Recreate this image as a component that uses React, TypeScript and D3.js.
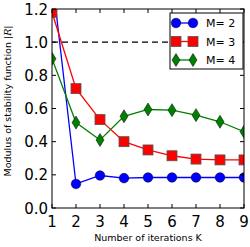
import React from "react";
import * as d3 from "d3";

const iterations = [1, 2, 3, 4, 5, 6, 7, 8, 9];
const m2 = [1.4, 0.145, 0.196, 0.18, 0.184, 0.184, 0.184, 0.184, 0.184];
const m3 = [1.18, 0.72, 0.533, 0.4, 0.35, 0.315, 0.295, 0.29, 0.29];
const m4 = [0.9, 0.515, 0.41, 0.553, 0.594, 0.59, 0.56, 0.52, 0.46];
const yTicks = [0, 0.2, 0.4, 0.6, 0.8, 1.0, 1.2];

const seriesList = [
  { name: "M= 2", values: m2, color: "#0000ff", marker: "circle" },
  { name: "M= 3", values: m3, color: "#ff0000", marker: "square" },
  { name: "M= 4", values: m4, color: "#008000", marker: "diamond" },
];

function Marker({ kind, x, y, color }) {
  if (kind === "circle")
    return <circle cx={x} cy={y} r={4.8} fill={color} stroke="#000" strokeWidth={0.5} />;
  if (kind === "square")
    return <rect x={x - 5} y={y - 5} width={10} height={10} fill={color} stroke="#555" strokeWidth={0.8} />;
  return (
    <path
      d={`M${x},${y - 6.5}L${x + 4},${y}L${x},${y + 6.5}L${x - 4},${y}Z`}
      fill={color}
      stroke="#000"
      strokeWidth={0.5}
    />
  );
}

export default function App() {
  const width = 250;
  const height = 247;
  const left = 52, right = 244, top = 9, bottom = 208;

  const x = d3.scaleLinear().domain([1, 9]).range([left, right]);
  const y = d3.scaleLinear().domain([0, 1.2]).range([bottom, top]);
  const line = d3
    .line<number>()
    .x((d, i) => x(iterations[i]))
    .y(d => y(d));

  const font = "DejaVu Sans, sans-serif";

  return (
    <svg
      width={width}
      height={height}
      style={{ position: "absolute", left: 0, top: 0 }}
      fontFamily={font}
    >
      <rect width={width} height={height} fill="#fff" />
      <defs>
        <clipPath id="plot">
          <rect x={left} y={top} width={right - left} height={bottom - top} />
        </clipPath>
      </defs>

      {/* reference line */}
      <line
        x1={left}
        x2={right}
        y1={y(1)}
        y2={y(1)}
        stroke="#000"
        strokeWidth={1.3}
        strokeDasharray="6,4"
      />

      <g clipPath="url(#plot)">
        {seriesList.map(s => (
          <g key={s.name}>
            <path d={line(s.values)} fill="none" stroke={s.color} strokeWidth={1.3} />
            {s.values.map((v, i) => (
              <Marker key={i} kind={s.marker} x={x(iterations[i])} y={y(v)} color={s.color} />
            ))}
          </g>
        ))}
      </g>

      {/* ticks */}
      {iterations.map(t => (
        <g key={"x" + t}>
          <line x1={x(t)} x2={x(t)} y1={bottom} y2={bottom - 4} stroke="#000" />
          <line x1={x(t)} x2={x(t)} y1={top} y2={top + 4} stroke="#000" />
          <text x={x(t)} y={bottom + 19} fontSize={15} textAnchor="middle">
            {t}
          </text>
        </g>
      ))}
      {yTicks.map(t => (
        <g key={"y" + t}>
          <line x1={left} x2={left + 4} y1={y(t)} y2={y(t)} stroke="#000" />
          <line x1={right} x2={right - 4} y1={y(t)} y2={y(t)} stroke="#000" />
          <text x={left - 4} y={y(t) + 5.5} fontSize={15} textAnchor="end">
            {t.toFixed(1)}
          </text>
        </g>
      ))}

      <rect
        x={left}
        y={top}
        width={right - left}
        height={bottom - top}
        fill="none"
        stroke="#000"
        strokeWidth={1}
      />

      {/* legend */}
      <g>
        <rect x={170} y={13} width={73} height={56} fill="#fff" stroke="#000" strokeWidth={1} />
        {seriesList.map((s, i) => {
          const ly = 23 + i * 18.5;
          return (
            <g key={s.name}>
              <line x1={176} x2={193} y1={ly} y2={ly} stroke={s.color} strokeWidth={1.3} />
              <Marker kind={s.marker} x={176} y={ly} color={s.color} />
              <Marker kind={s.marker} x={193} y={ly} color={s.color} />
              <text x={206} y={ly + 4} fontSize={11}>
                {s.name}
              </text>
            </g>
          );
        })}
      </g>

      {/* axis labels */}
      <text x={(left + right) / 2} y={241} fontSize={9.5} textAnchor="middle">
        Number of iterations K
      </text>
      <text
        transform={`translate(11,101) rotate(-90)`}
        fontSize={9.5}
        textAnchor="middle"
      >
        Modulus of stability function |<tspan fontStyle="italic" fontFamily="DejaVu Serif, serif">R</tspan>|
      </text>
    </svg>
  );
}
